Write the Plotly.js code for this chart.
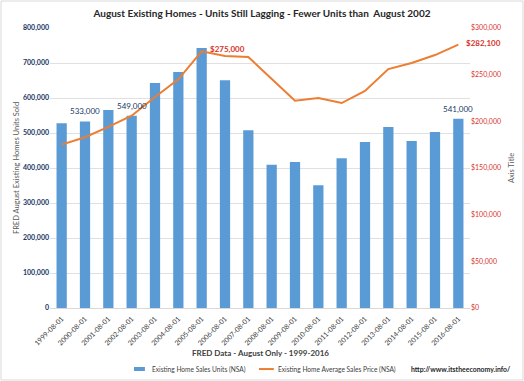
<!DOCTYPE html>
<html><head><meta charset="utf-8">
<script src="https://cdn.plot.ly/plotly-3.0.1.min.js"></script>
<style>html,body{margin:0;padding:0;background:#fff}#c{width:524px;height:381px}</style>
</head><body><div id="c"></div>
<script>
const categories = ['1999-08-01','2000-08-01','2001-08-01','2002-08-01','2003-08-01','2004-08-01','2005-08-01','2006-08-01','2007-08-01','2008-08-01','2009-08-01','2010-08-01','2011-08-01','2012-08-01','2013-08-01','2014-08-01','2015-08-01','2016-08-01'];
const units = [528000,533000,566000,549000,643000,674000,743000,651000,508000,409000,417000,351000,428000,474000,517000,477000,503000,541000];
const prices = [175000,183000,194000,206000,226000,245000,275000,270000,269000,245000,222000,225000,219600,232500,256000,262500,271000,282100];
const seriesNames = ['Existing Home Sales Units (NSA)','Existing Home Average Sales Price (NSA)'];
const unitLabelIdx = [1,3,17];
const priceLabelIdx = [6,17];

const FONT = 'Lato, "Open Sans", sans-serif';
const navy = '#203864', red = '#D9342B', grey = '#595959';
const blue = '#5B9BD5', orange = '#ED7D31';

const annotations = [];
unitLabelIdx.forEach(i => annotations.push({
  x: categories[i], y: units[i], xref:'x', yref:'y', text: units[i].toLocaleString('en-US'),
  showarrow:false, yanchor:'bottom', yshift:3, font:{family:FONT,size:8,color:navy}
}));
priceLabelIdx.forEach(i => annotations.push({
  x: categories[i], y: prices[i], xref:'x', yref:'y2', text: '<b>$' + prices[i].toLocaleString('en-US') + '</b>',
  showarrow:false, xanchor:'left', xshift:6, yshift:2, font:{family:FONT,size:8,color:red}
}));
annotations.push({x:0.5, y:-0.135, xref:'paper', yref:'paper', yanchor:'top', showarrow:false,
  text:'<b>FRED Data - August Only - 1999-2016</b>', font:{family:FONT,size:8,color:'#404040'}});
// custom legend texts
annotations.push({x:0.238, y:-0.218, xref:'paper', yref:'paper', xanchor:'left', yanchor:'middle', showarrow:false,
  text:seriesNames[0], font:{family:FONT,size:6.6,color:'#404040'}});
annotations.push({x:0.538, y:-0.218, xref:'paper', yref:'paper', xanchor:'left', yanchor:'middle', showarrow:false,
  text:seriesNames[1], font:{family:FONT,size:6.6,color:'#404040'}});
annotations.push({x:0.979, y:-0.218, xref:'paper', yref:'paper', xanchor:'center', yanchor:'middle', showarrow:false,
  text:'<b>http://www.itstheeconomy.info/</b>', font:{family:FONT,size:6.9,color:'#262626'}});

const traces = [
  {type:'bar', x:categories, y:units, name:seriesNames[0], marker:{color:blue}, yaxis:'y'},
  {type:'scatter', mode:'lines', x:categories, y:prices, name:seriesNames[1], line:{color:orange, width:2}, yaxis:'y2'}
];

const layout = {
  width:524, height:381,
  margin:{l:50, r:54, t:28, b:73},
  paper_bgcolor:'#fff', plot_bgcolor:'#fff',
  font:{family:FONT, color:grey},
  title:{text:'<b>August Existing Homes - Units Still Lagging - Fewer Units than  August 2002</b>', x:0.5, xanchor:'center', y:0.965, yanchor:'middle', font:{family:FONT,size:10,color:'#262626'}},
  bargap:0.56,
  showlegend:false,
  xaxis:{type:'category', range:[-0.5,17.5], autorange:false, tickangle:-45, tickfont:{family:FONT,size:7,color:'#404040'}, showgrid:false, showline:true, linecolor:'#D9D9D9', ticks:'', ticklabelstandoff:3, automargin:false},
  yaxis:{range:[0,800000], autorange:false, dtick:100000, tickformat:',', tickfont:{family:FONT,size:7,color:navy,weight:'bold'}, gridcolor:'#E0E0E0', zeroline:false,
    title:{text:'FRED August Existing Homes Units Sold', font:{family:FONT,size:7.5,color:grey}, standoff:2}, automargin:false},
  yaxis2:{range:[0,300000], autorange:false, dtick:50000, tickformat:'$,', overlaying:'y', side:'right', showgrid:false, zeroline:false,
    tickfont:{family:FONT,size:7,color:red}, title:{text:'Axis Title', font:{family:FONT,size:7.5,color:grey}, standoff:8}, automargin:false},
  annotations: annotations,
  shapes:[
    {type:'rect', xref:'paper', yref:'paper', x0:-49/420, x1:473/420, y0:-72/280, y1:307/280, line:{color:'#D9D9D9', width:1}, fillcolor:'rgba(0,0,0,0)'},
    {type:'rect', xref:'paper', yref:'paper', x0:0.2, x1:0.226, y0:-0.225, y1:-0.2107, line:{width:0}, fillcolor:blue},
    {type:'line', xref:'paper', yref:'paper', x0:0.4976, x1:0.533, y0:-0.218, y1:-0.218, line:{color:orange, width:2}}
  ]
};
Plotly.newPlot('c', traces, layout, {displayModeBar:false, staticPlot:true});
</script></body></html>
